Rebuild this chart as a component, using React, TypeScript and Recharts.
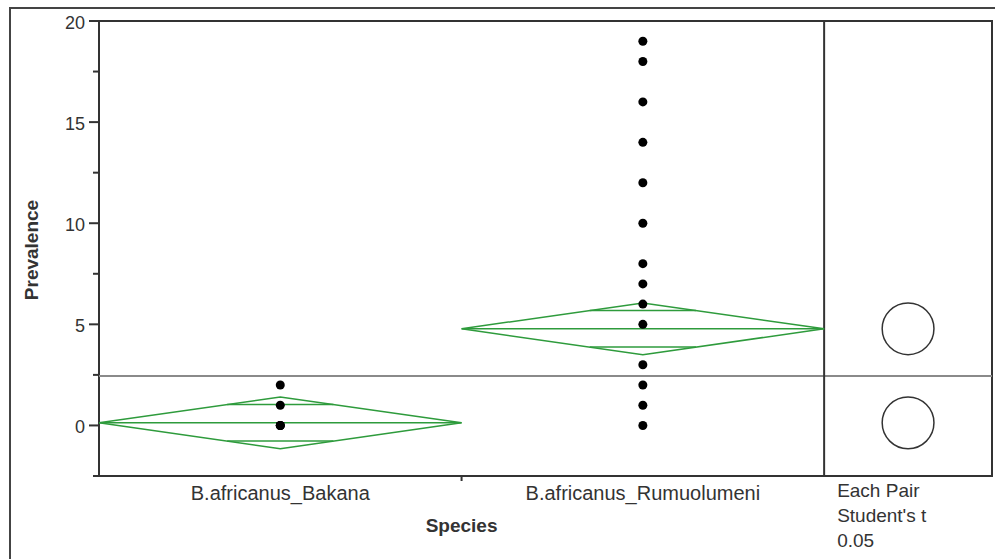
import React from "react";
import {
  ComposedChart, Line, Scatter, XAxis, YAxis, ReferenceLine, ReferenceArea, ReferenceDot,
} from "recharts";

// groups
const categories = ["B.africanus_Bakana", "B.africanus_Rumuolumeni"];
const bakanaValues = [0, 0, 0, 1, 2];
const rumuolumeniValues = [0, 1, 2, 3, 5, 6, 7, 8, 10, 12, 14, 16, 18, 19];
const groupMeans = [0.13, 4.78];
const ciHalfWidths = [1.28, 1.28];
const grandMean = 2.45;
const yTicks = [-2.5, 0, 2.5, 5, 7.5, 10, 12.5, 15, 17.5, 20];
const methodLines = ["Each Pair", "Student's t", "0.05"];

const W = 995;
const H = 559;
const M = { top: 21, right: 3, bottom: 0, left: 0 };
const Y_AXIS_W = 99;
const X_AXIS_H = 83;
const Y_MIN = -2.5;
const Y_MAX = 20;
const X_MIN = 0.5;
const X_MAX = 2.963;
const PANEL_X = 2.5;
const CIRCLE_X = (PANEL_X + X_MAX) / 2;
const PX_PER_UNIT = (H - M.top - X_AXIS_H) / (Y_MAX - Y_MIN);

const FONT = "'Liberation Sans', Arial, sans-serif";
const TXT = "#333";
const GREEN = "#2e9b3c";
const DARK = "#333";

const pointData = [bakanaValues, rumuolumeniValues].flatMap((vals, i) =>
  vals.map((v) => ({ x: i + 1, y: v }))
);

const k = 1 / Math.SQRT2;
const diamonds = groupMeans.map((m, i) => {
  const c = i + 1;
  const ci = ciHalfWidths[i];
  const w = 0.5 * (1 - k);
  return {
    outline: [
      { x: c - 0.5, y: m }, { x: c, y: m + ci }, { x: c + 0.5, y: m },
      { x: c, y: m - ci }, { x: c - 0.5, y: m },
    ],
    mean: [{ x: c - 0.5, y: m }, { x: c + 0.5, y: m }],
    upper: [{ x: c - w, y: m + ci * k }, { x: c + w, y: m + ci * k }],
    lower: [{ x: c - w, y: m - ci * k }, { x: c + w, y: m - ci * k }],
  };
});

const YTick = (props: any) => {
  const { x, y, payload } = props;
  const v = payload.value;
  const major = v % 5 === 0;
  return (
    <g>
      <line x1={x - (major ? 10 : 6)} x2={x} y1={y} y2={y} stroke={DARK} strokeWidth={2} />
      {major && (
        <text x={x - 14} y={y + 8} textAnchor="end" fontSize={18} fill={TXT} fontFamily={FONT}>
          {v}
        </text>
      )}
    </g>
  );
};

const XTick = (props: any) => {
  const { x, y, payload } = props;
  const v = payload.value;
  if (v === 1.5) {
    return (
      <g>
        <line x1={x} x2={x} y1={y} y2={y + 5} stroke={DARK} strokeWidth={2} />
        <text x={x} y={y + 56} textAnchor="middle" fontSize={19} fontWeight="bold" fill={TXT} fontFamily={FONT}>
          Species
        </text>
      </g>
    );
  }
  if (v === PANEL_X) {
    return (
      <text x={x + 13} y={y + 21} fontSize={19} fill={TXT} fontFamily={FONT}>
        {methodLines.map((s, i) => (
          <tspan key={s} x={x + 13} dy={i === 0 ? 0 : 25}>{s}</tspan>
        ))}
      </text>
    );
  }
  return (
    <text x={x} y={y + 24} textAnchor="middle" fontSize={20} fill={TXT} fontFamily={FONT}>
      {categories[v - 1]}
    </text>
  );
};

export default function App() {
  return (
    <div style={{ position: "absolute", left: 0, top: 0, width: W, height: H, background: "#fff" }}>
      <div style={{ position: "absolute", left: 9, top: 7, width: W - 9, height: H - 7, borderTop: "2px solid #444", borderLeft: "2px solid #444", boxSizing: "border-box" }} />
      <ComposedChart width={W} height={H} margin={M} style={{ position: "absolute", left: 0, top: 0 }}>
        <XAxis
          type="number"
          dataKey="x"
          domain={[X_MIN, X_MAX]}
          ticks={[1, 1.5, 2, PANEL_X]}
          interval={0}
          height={X_AXIS_H}
          axisLine={false}
          tickLine={false}
          tickSize={0}
          tickMargin={0}
          tick={<XTick />}
        />
        <YAxis
          type="number"
          dataKey="y"
          domain={[Y_MIN, Y_MAX]}
          ticks={yTicks}
          interval={0}
          width={Y_AXIS_W}
          axisLine={false}
          tickLine={false}
          tickSize={0}
          tickMargin={0}
          tick={<YTick />}
          label={{
            content: () => (
              <text x={38} y={250} transform="rotate(-90 38 250)" textAnchor="middle" fontSize={19} fontWeight="bold" fill={TXT} fontFamily={FONT}>
                Prevalence
              </text>
            ),
          }}
        />
        <ReferenceLine y={grandMean} stroke="#8a8a8a" strokeWidth={2} />
        <ReferenceArea x1={X_MIN} x2={X_MAX} y1={Y_MIN} y2={Y_MAX} fill="none" stroke={DARK} strokeWidth={2} />
        <ReferenceLine x={PANEL_X} stroke={DARK} strokeWidth={2} />
        {diamonds.map((d, i) => (
          <React.Fragment key={i}>
            <Line data={d.outline} dataKey="y" stroke={GREEN} strokeWidth={1.5} dot={false} isAnimationActive={false} />
            <Line data={d.mean} dataKey="y" stroke={GREEN} strokeWidth={1.5} dot={false} isAnimationActive={false} />
            <Line data={d.upper} dataKey="y" stroke={GREEN} strokeWidth={1.5} dot={false} isAnimationActive={false} />
            <Line data={d.lower} dataKey="y" stroke={GREEN} strokeWidth={1.5} dot={false} isAnimationActive={false} />
          </React.Fragment>
        ))}
        <Scatter
          data={pointData}
          dataKey="y"
          fill="#000"
          isAnimationActive={false}
          shape={(p: any) => <circle cx={p.cx} cy={p.cy} r={4.5} fill="#000" />}
        />
        {groupMeans.map((m, i) => (
          <ReferenceDot key={i} x={CIRCLE_X} y={m} r={ciHalfWidths[i] * PX_PER_UNIT} fill="none" stroke={DARK} strokeWidth={1.5} />
        ))}
      </ComposedChart>
    </div>
  );
}
